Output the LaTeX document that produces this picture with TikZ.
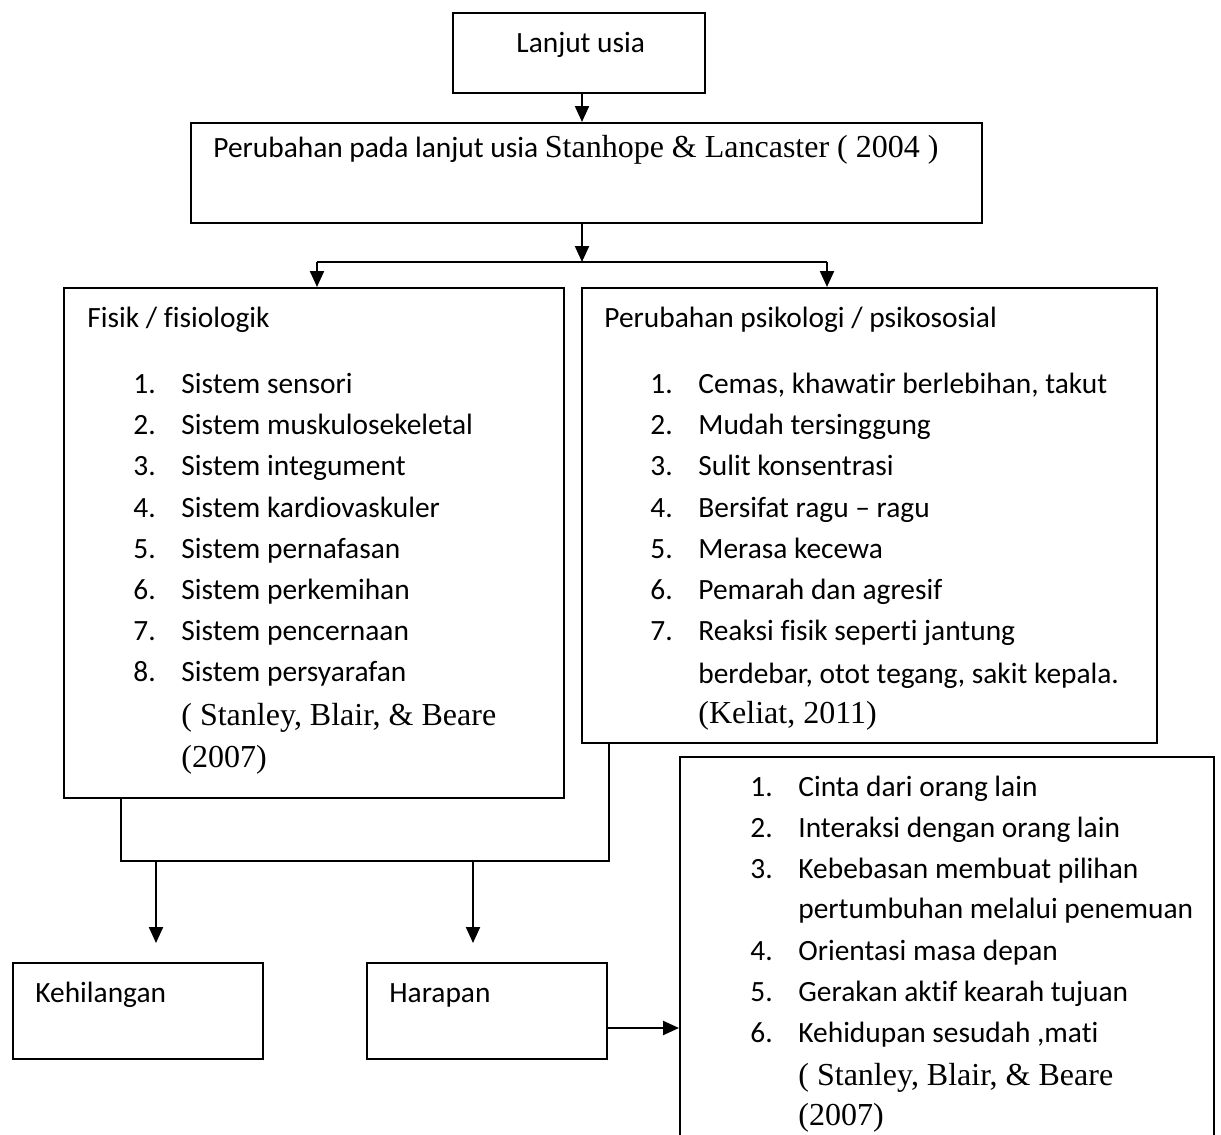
\documentclass[tikz,border=0pt]{standalone}
\usepackage{fontspec}
\setmainfont{Carlito}[RawFeature={-liga;-clig;-dlig}]
\newfontfamily\timesfont{Liberation Serif}
\usetikzlibrary{arrows.meta}

\newcommand{\nomor}[1]{\makebox[24pt][l]{#1}}

\begin{document}
\begin{tikzpicture}[x=0.5pt, y=-0.5pt]
	\tikzset{kotak/.style={rectangle, draw=black, line width=1pt, inner sep=0pt},
		teks/.style={anchor=base west, inner sep=0pt, font=\fontsize{14.7}{17}\selectfont},
		sumber/.style={anchor=base west, inner sep=0pt, font=\fontsize{16}{18}\timesfont},
		panah/.style={-{Triangle[length=8pt, width=7pt]}, line width=1.1pt},
		garis/.style={line width=1.1pt}};

	\useasboundingbox (0,0) rectangle (1221,1135);
	\clip (0,0) rectangle (1221,1135);

	% kotak
	\node[kotak, minimum width=126pt,   minimum height=40pt]    (lansia)    at ( 579,   53) {};
	\node[kotak, minimum width=395.5pt, minimum height=50pt]    (perubahan) at ( 586.5, 173) {};
	\node[kotak, minimum width=250pt,   minimum height=255pt]   (fisik)     at ( 314,  543) {};
	\node[kotak, minimum width=287.5pt, minimum height=227.5pt] (psiko)     at ( 869.5, 515.5) {};
	\node[kotak, minimum width=267pt,   minimum height=201.5pt] (kebutuhan) at ( 947,  958.5) {};
	\node[kotak, minimum width=125pt,   minimum height=48pt]    (hilang)    at ( 138, 1011) {};
	\node[kotak, minimum width=120pt,   minimum height=48pt]    (harapan)   at ( 487, 1011) {};

	% isi
	\node[teks] (tlansia) at (516, 52) {Lanjut usia};
	\node[teks] (tperubahan) at (213, 157) {Perubahan pada lanjut usia {\fontsize{16}{18}\timesfont Stanhope \& Lancaster ( 2004 )}};

	\node[teks] (tfisik) at ( 87, 327) {Fisik / fisiologik};
	\node[teks] (f1) at (133, 393) {\nomor{1.}Sistem sensori};
	\node[teks] (f2) at (133, 434) {\nomor{2.}Sistem muskulosekeletal};
	\node[teks] (f3) at (133, 475) {\nomor{3.}Sistem integument};
	\node[teks] (f4) at (133, 517) {\nomor{4.}Sistem kardiovaskuler};
	\node[teks] (f5) at (133, 558) {\nomor{5.}Sistem pernafasan};
	\node[teks] (f6) at (133, 599) {\nomor{6.}Sistem perkemihan};
	\node[teks] (f7) at (133, 640) {\nomor{7.}Sistem pencernaan};
	\node[teks] (f8) at (133, 681) {\nomor{8.}Sistem persyarafan};
	\node[sumber] (fs1) at (181, 725) {( Stanley, Blair, \& Beare};
	\node[sumber] (fs2) at (181, 767) {(2007)};

	\node[teks] (tpsiko) at (604, 327) {Perubahan psikologi / psikososial};
	\node[teks] (p1) at (650, 393) {\nomor{1.}Cemas, khawatir berlebihan, takut};
	\node[teks] (p2) at (650, 434) {\nomor{2.}Mudah tersinggung};
	\node[teks] (p3) at (650, 475) {\nomor{3.}Sulit konsentrasi};
	\node[teks] (p4) at (650, 517) {\nomor{4.}Bersifat ragu -- ragu};
	\node[teks] (p5) at (650, 558) {\nomor{5.}Merasa kecewa};
	\node[teks] (p6) at (650, 599) {\nomor{6.}Pemarah dan agresif};
	\node[teks] (p7) at (650, 640) {\nomor{7.}Reaksi fisik seperti jantung};
	\node[teks] (p7b) at (698, 683) {berdebar, otot tegang, sakit kepala.};
	\node[sumber] (ps) at (698, 723) {(Keliat, 2011)};

	\node[teks] (k1) at (750, 796) {\nomor{1.}Cinta dari orang lain};
	\node[teks] (k2) at (750, 837) {\nomor{2.}Interaksi dengan orang lain};
	\node[teks] (k3) at (750, 878) {\nomor{3.}Kebebasan membuat pilihan};
	\node[teks] (k3b) at (798, 918) {pertumbuhan melalui penemuan};
	\node[teks] (k4) at (750, 960) {\nomor{4.}Orientasi masa depan};
	\node[teks] (k5) at (750, 1001) {\nomor{5.}Gerakan aktif kearah tujuan};
	\node[teks] (k6) at (750, 1042) {\nomor{6.}Kehidupan sesudah ,mati};
	\node[sumber] (ks1) at (798, 1085) {( Stanley, Blair, \& Beare};
	\node[sumber] (ks2) at (798, 1125) {(2007)};

	\node[teks] (thilang)  at ( 35, 1002) {Kehilangan};
	\node[teks] (tharapan) at (389, 1002) {Harapan};

	% panah
	\coordinate (cabang) at (582, 262);
	\coordinate (kiri)   at (317, 262);
	\coordinate (kanan)  at (827, 262);
	\coordinate (gabkiri)  at (121, 861);
	\coordinate (gabkanan) at (609, 861);
	\coordinate (turun1) at (156, 861);
	\coordinate (turun2) at (473, 861);

	\draw[panah] (lansia.south -| cabang) -- (perubahan.north -| cabang);
	\draw[panah] (perubahan.south -| cabang) -- (cabang);
	\draw[garis] (kiri) -- (kanan);
	\draw[panah] (kiri) -- (kiri |- fisik.north);
	\draw[panah] (kanan) -- (kanan |- psiko.north);
	\draw[garis] (fisik.south -| gabkiri) -- (gabkiri) -- (gabkanan) -- (psiko.south -| gabkanan);
	\draw[panah, shorten >=9.5pt] (turun1) -- (turun1 |- hilang.north);
	\draw[panah, shorten >=9.5pt] (turun2) -- (turun2 |- harapan.north);
	\draw[panah] ([yshift=-8.5pt]harapan.east) -- ([yshift=-8.5pt]harapan.east -| kebutuhan.west);
\end{tikzpicture}
\end{document}
